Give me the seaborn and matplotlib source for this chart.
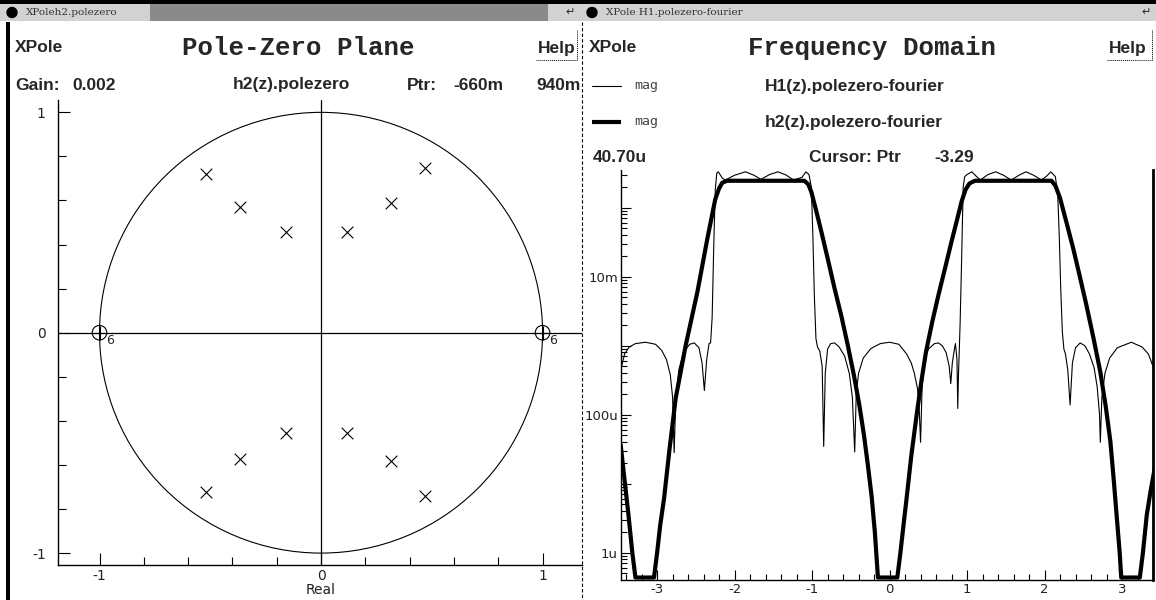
import numpy as np
import pandas as pd
import matplotlib
matplotlib.use("Agg")
import matplotlib.pyplot as plt
import seaborn as sns
from matplotlib.patches import Circle, Rectangle
from matplotlib.ticker import FixedLocator, LogLocator, NullFormatter, FuncFormatter

# --- pole-zero plane (h2) ---
pole_re = [-0.521, -0.366, -0.160, 0.116, 0.316, 0.471,
           -0.521, -0.366, -0.160, 0.116, 0.316, 0.471]
pole_im = [0.722, 0.571, 0.458, 0.458, 0.587, 0.748,
           -0.722, -0.575, -0.457, -0.457, -0.584, -0.742]
zero_re = [-1.0, 1.0]
zero_im = [0.0, 0.0]
zero_order = ["6", "6"]

# --- frequency domain, log10 of magnitude ---
h1_w = [-3.47, -3.42, -3.36, -3.28, -3.15, -3.02, -2.94, -2.88, -2.83, -2.80,
        -2.78, -2.76, -2.72, -2.66, -2.58, -2.52, -2.46, -2.42, -2.39, -2.36,
        -2.33, -2.31, -2.29, -2.27, -2.25, -2.23, -2.21, -2.16, -2.12, -2.00,
        -1.86, -1.75, -1.66, -1.55, -1.44, -1.33, -1.24, -1.13, -1.08, -1.04,
        -1.01, -0.99, -0.97, -0.95, -0.93, -0.90, -0.87, -0.85, -0.83, -0.80,
        -0.76, -0.71, -0.65, -0.58, -0.52, -0.48, -0.45, -0.43, -0.40, -0.34,
        -0.24, -0.12, 0.00, 0.12, 0.22, 0.28, 0.32, 0.36, 0.38, 0.40,
        0.42, 0.45, 0.50, 0.58, 0.63, 0.68, 0.73, 0.77, 0.79, 0.81,
        0.83, 0.85, 0.87, 0.88, 0.89, 0.91, 0.93, 0.95, 0.97, 1.00,
        1.06, 1.17, 1.27, 1.37, 1.47, 1.57, 1.67, 1.76, 1.86, 1.96,
        2.03, 2.08, 2.14, 2.17, 2.19, 2.21, 2.23, 2.25, 2.27, 2.30,
        2.33, 2.36, 2.40, 2.46, 2.52, 2.58, 2.64, 2.68, 2.71, 2.72,
        2.74, 2.78, 2.84, 2.94, 3.12, 3.26, 3.34, 3.40]
h1_log = [-3.35, -3.12, -3.02, -2.97, -2.95, -2.98, -3.07, -3.20, -3.42, -3.75,
          -4.55, -3.80, -3.35, -3.10, -2.98, -2.96, -3.03, -3.25, -3.65, -3.20,
          -2.97, -2.96, -2.60, -1.60, -0.75, -0.50, -0.48, -0.57, -0.60, -0.53,
          -0.48, -0.53, -0.59, -0.52, -0.48, -0.53, -0.60, -0.56, -0.48, -0.52,
          -0.70, -1.40, -2.30, -2.90, -3.02, -3.08, -3.30, -4.46, -3.40, -3.05,
          -2.97, -2.96, -3.02, -3.15, -3.40, -3.75, -4.54, -3.70, -3.40, -3.18,
          -3.04, -2.97, -2.95, -2.98, -3.12, -3.25, -3.40, -3.62, -3.85, -4.40,
          -3.60, -3.21, -3.05, -2.97, -2.96, -3.00, -3.10, -3.30, -3.55, -3.25,
          -3.10, -2.97, -3.20, -3.91, -3.40, -2.70, -1.76, -0.70, -0.55, -0.52,
          -0.48, -0.60, -0.52, -0.48, -0.53, -0.60, -0.53, -0.48, -0.53, -0.60,
          -0.54, -0.48, -0.55, -0.80, -1.40, -2.20, -2.80, -3.05, -3.12, -3.35,
          -3.86, -3.25, -3.03, -2.96, -3.00, -3.12, -3.32, -3.60, -4.00, -4.40,
          -3.75, -3.40, -3.18, -3.03, -2.95, -3.02, -3.12, -3.30]

h2_w = [-3.47, -3.42, -3.37, -3.32, -3.28, -3.04, -3.00, -2.96, -2.91, -2.84,
        -2.76, -2.63, -2.48, -2.35, -2.25, -2.20, -2.16, -2.10, -1.10, -1.05,
        -1.01, -0.95, -0.88, -0.80, -0.71, -0.62, -0.54, -0.46, -0.39, -0.33,
        -0.28, -0.23, -0.19, -0.15, 0.10, 0.14, 0.18, 0.22, 0.28, 0.35,
        0.41, 0.47, 0.55, 0.63, 0.72, 0.80, 0.87, 0.93, 0.98, 1.03,
        1.10, 2.09, 2.14, 2.20, 2.28, 2.37, 2.45, 2.54, 2.63, 2.72,
        2.79, 2.85, 2.89, 2.93, 2.97, 2.99, 3.23, 3.27, 3.32, 3.37, 3.43]
h2_log = [-4.44, -4.95, -5.45, -6.00, -6.36, -6.36, -6.00, -5.60, -5.21, -4.50,
          -3.76, -2.99, -2.22, -1.44, -0.88, -0.72, -0.64, -0.61, -0.61, -0.66,
          -0.77, -1.03, -1.35, -1.73, -2.17, -2.58, -2.99, -3.43, -3.86, -4.30,
          -4.73, -5.20, -5.70, -6.36, -6.36, -6.00, -5.60, -5.21, -4.60, -4.00,
          -3.52, -3.09, -2.66, -2.27, -1.86, -1.49, -1.18, -0.91, -0.74, -0.65,
          -0.61, -0.61, -0.68, -0.86, -1.20, -1.59, -1.97, -2.41, -2.88, -3.38,
          -3.88, -4.39, -4.90, -5.45, -6.00, -6.36, -6.36, -6.00, -5.45, -5.10, -4.73]

mag_labels = {-2: "10m", -4: "100u", -6: "1u"}

W, H = 1156, 600


def box(x0, y0, x1, y1):
    return [x0 / W, 1 - y1 / H, (x1 - x0) / W, (y1 - y0) / H]


sns.set_theme(style="white")
plt.rcParams["font.family"] = ["DejaVu Sans"]
plt.rcParams["axes.unicode_minus"] = False

fig = plt.figure(figsize=(W / 100, H / 100), dpi=100)
fig.patch.set_facecolor("white")

# screen decoration layer in pixel coordinates
deco = fig.add_axes([0, 0, 1, 1], zorder=0)
deco.set_xlim(0, W)
deco.set_ylim(H, 0)
deco.axis("off")

# title bars
deco.add_patch(Rectangle((0, 0), W, 4, color="black", lw=0))
deco.add_patch(Rectangle((0, 4), 578, 17, color="#8a8a8a", lw=0))
deco.add_patch(Rectangle((0, 4), 150, 17, color="#d2d2d2", lw=0))
deco.add_patch(Rectangle((548, 4), 32, 17, color="#d2d2d2", lw=0))
deco.add_patch(Rectangle((580, 4), W - 580, 17, color="#d2d2d2", lw=0))
deco.add_patch(Circle((12, 12.5), 5, color="black"))
deco.add_patch(Circle((592, 12.5), 5, color="black"))
deco.text(26, 12.5, "XPoleh2.polezero", family="DejaVu Serif", fontsize=7.5,
          va="center", color="#333333")
deco.text(606, 12.5, "XPole H1.polezero-fourier", family="DejaVu Serif",
          fontsize=7.5, va="center", color="#333333")
deco.text(570, 12, "\u21b5", fontsize=8, ha="center", va="center")
deco.text(1146, 12, "\u21b5", fontsize=8, ha="center", va="center")

# window borders
deco.add_patch(Rectangle((6, 22), 4, H - 22, color="black", lw=0))
deco.plot([582, 582], [22, H], color="black", lw=0.8, ls=(0, (3, 2)))
for hx0, hx1 in [(536, 577), (1107, 1152)]:
    deco.plot([hx0, hx1], [60, 60], color="black", lw=0.7, ls=(0, (1, 1)))
    deco.plot([hx1, hx1], [30, 60], color="black", lw=0.7, ls=(0, (1, 1)))

bold = dict(family="Liberation Sans", weight="bold", fontsize=12.5, va="center")
mono = dict(family="Liberation Mono", weight="bold", fontsize=18.5, va="center")

# left window header
deco.text(15, 48, "XPole", **bold)
deco.text(298, 48, "Pole-Zero Plane", ha="center", **mono)
deco.text(538, 48, "Help", **bold)
deco.text(15, 85, "Gain:", **bold)
deco.text(72, 85, "0.002", **bold)
deco.text(233, 85, "h2(z).polezero", **bold)
deco.text(407, 85, "Ptr:", **bold)
deco.text(453, 85, "-660m", **bold)
deco.text(536, 85, "940m", **bold)

# right window header
deco.text(589, 48, "XPole", **bold)
deco.text(872, 48, "Frequency Domain", ha="center", **mono)
deco.text(1109, 48, "Help", **bold)
deco.plot([592, 621], [86, 86], color="black", lw=0.8)
deco.plot([592, 621], [122, 122], color="black", lw=3.0, solid_capstyle="butt")
for yy in (86, 122):
    deco.text(634, yy, "mag", family="DejaVu Sans Mono", fontsize=9.5,
              va="center", color="#444444")
deco.text(765, 86, "H1(z).polezero-fourier", **bold)
deco.text(765, 122, "h2(z).polezero-fourier", **bold)
deco.text(593, 158, "40.70u", **bold)
deco.text(809, 158, "Cursor: Ptr", **bold)
deco.text(934, 158, "-3.29", **bold)


def style_axes(ax, spines):
    ax.patch.set_alpha(0)
    for name, sp in ax.spines.items():
        sp.set_visible(name in spines)
        sp.set_color("black")
        sp.set_linewidth(1.0)
    ax.grid(False)


# ---------------- pole-zero plane ----------------
ax_pz = fig.add_axes(box(58.3, 100, 582, 565), zorder=1)
style_axes(ax_pz, ("left", "bottom"))
ax_pz.add_patch(Circle((0, 0), 1.0, fill=False, ec="black", lw=0.8))
ax_pz.axhline(0, color="black", lw=0.9)
ax_pz.axvline(0, color="black", lw=0.9)
sns.scatterplot(x=pole_re, y=pole_im, marker="x", s=70, color="black",
                linewidth=0.8, ax=ax_pz, zorder=3)
sns.scatterplot(x=zero_re, y=zero_im, marker="o", s=110, facecolor="none",
                edgecolor="black", linewidth=0.8, ax=ax_pz, zorder=3)
sns.scatterplot(x=zero_re, y=zero_im, marker="+", s=110, color="black",
                linewidth=0.8, ax=ax_pz, zorder=3)
for zr, zi, order in zip(zero_re, zero_im, zero_order):
    ax_pz.text(zr + 0.03, zi - 0.005, order, fontsize=9, ha="left", va="top")
ax_pz.set_xlim(-1.186, 1.178)
ax_pz.set_ylim(-1.054, 1.056)
ax_pz.xaxis.set_major_locator(FixedLocator([-1, 0, 1]))
ax_pz.yaxis.set_major_locator(FixedLocator([-1, 0, 1]))
ax_pz.xaxis.set_minor_locator(FixedLocator(np.arange(-1.0, 1.01, 0.2)))
ax_pz.yaxis.set_minor_locator(FixedLocator(np.arange(-1.0, 1.01, 0.2)))
ax_pz.xaxis.set_major_formatter(FuncFormatter(lambda v, p: f"{v:.0f}"))
ax_pz.yaxis.set_major_formatter(FuncFormatter(lambda v, p: f"{v:.0f}"))
ax_pz.tick_params(which="both", direction="in", color="black", width=0.8,
                  bottom=True, left=True, top=False, right=False,
                  labelsize=10, labelcolor="#222222")
ax_pz.tick_params(which="major", length=8.5)
ax_pz.tick_params(which="minor", length=5.5)
ax_pz.tick_params(axis="y", which="major", pad=9)
ax_pz.tick_params(axis="x", which="major", pad=3)
ax_pz.set_xlabel("Real", fontsize=10, labelpad=0, color="#222222")
ax_pz.set_ylabel("")

# ---------------- frequency domain ----------------
ax_fr = fig.add_axes(box(620.7, 170, 1153, 580), zorder=1)
style_axes(ax_fr, ("left", "bottom", "right"))
ax_fr.spines["right"].set_linewidth(2.0)
sns.lineplot(x=h1_w, y=np.power(10.0, h1_log), color="black", lw=0.8,
             estimator=None, sort=False, ax=ax_fr)
sns.lineplot(x=h2_w, y=np.power(10.0, h2_log), color="black", lw=3.0,
             estimator=None, sort=False, ax=ax_fr)
ax_fr.set_yscale("log")
ax_fr.set_xlim(-3.47, 3.40)
ax_fr.set_ylim(10 ** -6.396, 10 ** -0.454)
ax_fr.xaxis.set_major_locator(FixedLocator(np.arange(-3, 4, 1)))
ax_fr.xaxis.set_minor_locator(FixedLocator(np.arange(-3.4, 3.41, 0.2)))
ax_fr.xaxis.set_major_formatter(FuncFormatter(lambda v, p: f"{v:.0f}"))
ax_fr.yaxis.set_major_locator(LogLocator(base=10, numticks=20))
ax_fr.yaxis.set_minor_locator(LogLocator(base=10, subs=np.arange(2, 10), numticks=20))
ax_fr.yaxis.set_major_formatter(
    FuncFormatter(lambda v, p: mag_labels.get(int(round(np.log10(v))), "")))
ax_fr.yaxis.set_minor_formatter(NullFormatter())
ax_fr.tick_params(which="both", direction="in", color="black", width=0.8,
                  bottom=True, left=True, top=False, right=False,
                  labelsize=9.5, labelcolor="#222222")
ax_fr.tick_params(which="major", length=7.5)
ax_fr.tick_params(which="minor", length=4.5)
ax_fr.tick_params(axis="y", which="major", pad=2)
ax_fr.tick_params(axis="x", which="major", pad=2)
ax_fr.set_xlabel("")
ax_fr.set_ylabel("")

fig.savefig("out.png", dpi=100)
